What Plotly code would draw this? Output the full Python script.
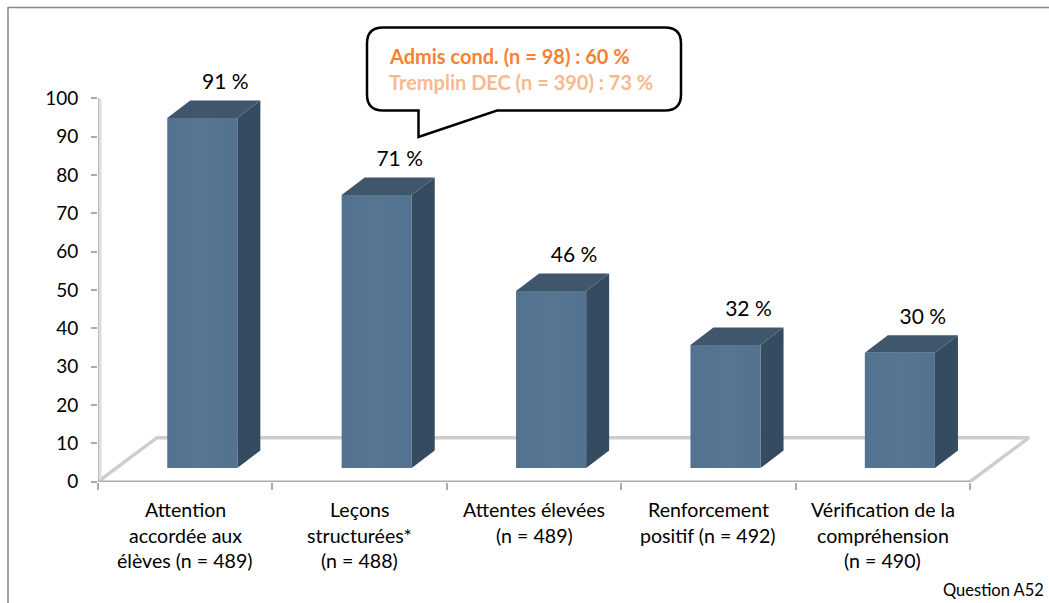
import plotly.graph_objects as go

# ---- data ----
categories = [
    ["Attention", "accordée aux", "élèves (n = 489)"],
    ["Leçons", "structurées*", "(n = 488)"],
    ["Attentes élevées", "(n = 489)"],
    ["Renforcement", "positif (n = 492)"],
    ["Vérification de la", "compréhension", "(n = 490)"],
]
values = [91, 71, 46, 32, 30]
y_ticks = [0, 10, 20, 30, 40, 50, 60, 70, 80, 90, 100]
callout_lines = ["Admis cond. (n = 98) : 60 %", "Tremplin DEC (n = 390) : 73 %"]
source_note = "Question A52"

# ---- geometry / style ----
W, H = 1049, 603
X0, CAT_W = 98.0, 174.4      # pixel of x=0, pixels per category
Y0, UNIT = 481.7, 3.834      # pixel of y=0, pixels per value unit
MB = 121
PLOT_H = H - MB
PLOT_W = W - X0
xmax = PLOT_W / CAT_W
ymin = (Y0 - PLOT_H) / UNIT
ymax = Y0 / UNIT

FONT = "Lato"
FRONT, SIDE, TOP = "#567590", "#344B60", "#3F566D"
DX = 23 / CAT_W               # depth of the 3-D projection, in axis units
DY = 17.5 / UNIT
BAR_BASE = (Y0 - 468) / UNIT
BAR_SCALE = 1.003
BAR_L, BAR_W = 0.397, 0.402


def xp(px):
    return (px - X0) / CAT_W


def yp(px):
    return (Y0 - px) / UNIT


def xpaper(px):
    return (px - X0) / PLOT_W


def ypaper(px):
    return (PLOT_H - px) / PLOT_H


fig = go.Figure()


def line(xs, ys, color, width):
    fig.add_trace(go.Scatter(x=xs, y=ys, mode="lines", line=dict(color=color, width=width),
                             hoverinfo="skip", showlegend=False, cliponaxis=False))


def face(xs, ys, color, gradient=None):
    fig.add_trace(go.Scatter(x=xs, y=ys, mode="lines", fill="toself", fillcolor=color,
                             fillgradient=gradient, line=dict(width=0, color=color),
                             hoverinfo="skip", showlegend=False))


# floor
FX, FY = 59 / CAT_W, 44 / UNIT
line([0, FX, 5 + FX, 5], [0, FY, FY, 0], "#CDCDCD", 3.5)
# axis shadows then axis lines
line([xp(100), xp(100)], [0, 100], "#DEDEDE", 3)
line([0, 5], [yp(484), yp(484)], "#E2E2E2", 3)
line([xp(97.5), xp(97.5)], [0, 100], "#ABABAB", 2.5)
line([0, 5], [0, 0], "#ABABAB", 2.5)

# bars
front_gradient = dict(type="horizontal",
                      colorscale=[[0, "#527290"], [0.5, "#587691"], [1, "#527290"]])
for i, v in enumerate(values):
    l, r = i + BAR_L, i + BAR_L + BAR_W
    b, t = BAR_BASE, BAR_BASE + v * BAR_SCALE
    face([r, r + DX, r + DX, r, r], [b, b + DY, t + DY, t, b], SIDE)
    face([l, l + DX, r + DX, r, l], [t, t + DY, t + DY, t, t], TOP)
    face([l, r, r, l, l], [b, b, t, t, b], FRONT, front_gradient)

# data labels, centred over the back of each bar
fig.add_trace(go.Scatter(
    x=[i + BAR_L + BAR_W / 2 + DX for i in range(len(values))],
    y=[BAR_BASE + v * BAR_SCALE + DY + 16.5 / UNIT for v in values],
    mode="text", text=[f"{v} %" for v in values], textposition="middle center",
    textfont=dict(family=FONT, size=21, color="#000000"),
    hoverinfo="skip", showlegend=False, cliponaxis=False))

annotations = []
# category labels, one line at a time to keep the 25.5 px leading
for i, lines in enumerate(categories):
    for j, txt in enumerate(lines):
        annotations.append(dict(
            x=xpaper(X0 + (i + 0.5) * CAT_W), xref="paper", y=ypaper(509.5 + j * 25.5), yref="paper",
            yanchor="middle", xanchor="center", text=txt, showarrow=False,
            font=dict(family=FONT, size=19.6, color="#000000")))

# callout text
for txt, ypx, col in zip(callout_lines, [56, 82], ["#F58233", "#F8B98F"]):
    annotations.append(dict(
        x=xpaper(387), xref="paper", y=ypaper(ypx), yref="paper", xanchor="left", yanchor="middle",
        text=f"<b>{txt}</b>", showarrow=False, font=dict(family=FONT, size=20, color=col)))

# note
annotations.append(dict(
    x=xpaper(1046), xref="paper", y=ypaper(590), yref="paper", xanchor="right", yanchor="middle",
    text=source_note, showarrow=False, font=dict(family=FONT, size=16.5, color="#000000")))


def callout_path():
    L, R, T, B, RD = xp(367), xp(681), yp(27.5), yp(110.5), 16
    rx, ry = RD / CAT_W, RD / UNIT
    return (f"M {L + rx} {T} L {R - rx} {T} Q {R} {T} {R} {T - ry} "
            f"L {R} {B + ry} Q {R} {B} {R - rx} {B} "
            f"L {xp(497)} {B} L {xp(418.5)} {yp(137)} L {xp(418.5)} {B} "
            f"L {L + rx} {B} Q {L} {B} {L} {B + ry} L {L} {T - ry} Q {L} {T} {L + rx} {T} Z")


shapes = [
    # outer frame: top and left edges only
    dict(type="line", xref="paper", yref="paper", x0=xpaper(8), x1=xpaper(1049),
         y0=ypaper(7.5), y1=ypaper(7.5), line=dict(color="#858585", width=1.5), layer="below"),
    dict(type="line", xref="paper", yref="paper", x0=xpaper(8), x1=xpaper(8),
         y0=ypaper(7), y1=ypaper(603), line=dict(color="#858585", width=1.5), layer="below"),
    dict(type="path", xref="x", yref="y", path=callout_path(), fillcolor="#FFFFFF",
         line=dict(color="#000000", width=2.5), layer="above"),
]

fig.update_layout(
    width=W, height=H, autosize=False,
    margin=dict(l=int(X0), r=0, t=0, b=MB, pad=0),
    paper_bgcolor="#FFFFFF", plot_bgcolor="#FFFFFF",
    showlegend=False, annotations=annotations, shapes=shapes,
    xaxis=dict(range=[0, xmax], showgrid=False, zeroline=False, showline=False,
               tickmode="array", tickvals=list(range(6)), ticktext=[""] * 6,
               ticks="outside", ticklen=7, tickwidth=1.5, tickcolor="#ABABAB"),
    yaxis=dict(range=[ymin, ymax], showgrid=False, zeroline=False, showline=False,
               tickmode="array", tickvals=y_ticks, ticks="outside", ticklen=6,
               tickwidth=1.5, tickcolor="#ABABAB", ticklabelstandoff=9,
               tickfont=dict(family=FONT, size=19, color="#000000")),
)

fig.write_html("out.html", config=dict(displayModeBar=False),
               post_script="document.body.style.margin='0';document.body.style.overflow='hidden';")
